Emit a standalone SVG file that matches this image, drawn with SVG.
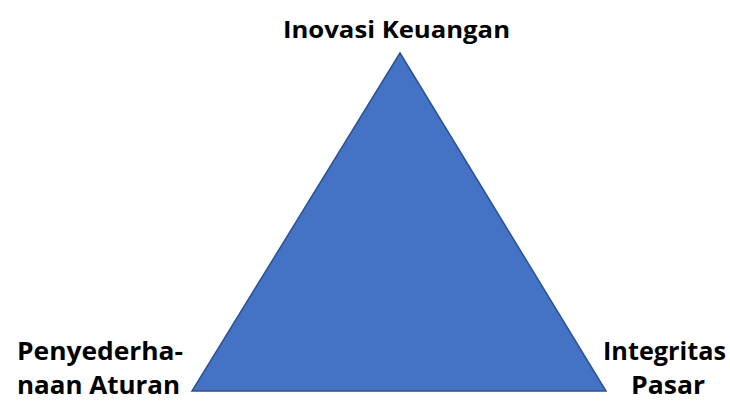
<svg xmlns="http://www.w3.org/2000/svg" width="730" height="402" viewBox="0 0 730 402">
<style>
.lbl{font-family:"Open Sans","Noto Sans","Liberation Sans",sans-serif;font-weight:bold;fill:#000}
.top{font-size:24px}
.side{font-size:25px}
</style>
<rect width="730" height="402" fill="#fff"/>
<g id="triangle">
<polygon points="400,53 606,391 192,391" fill="#4472C4" stroke="#2F528F" stroke-width="1.5"/>
</g>
<g id="top-label">
<text class="lbl top" x="283" y="38" textLength="227" lengthAdjust="spacingAndGlyphs">Inovasi Keuangan</text>
</g>
<g id="left-label">
<text class="lbl side" x="17" y="360" textLength="166" lengthAdjust="spacingAndGlyphs">Penyederha-</text>
<text class="lbl side" x="17" y="394" textLength="163" lengthAdjust="spacingAndGlyphs">naan Aturan</text>
</g>
<g id="right-label">
<text class="lbl side" x="603" y="360" textLength="123" lengthAdjust="spacingAndGlyphs">Integritas</text>
<text class="lbl side" x="631" y="394" textLength="74" lengthAdjust="spacingAndGlyphs">Pasar</text>
</g>
<g id="connectors"></g>
</svg>
